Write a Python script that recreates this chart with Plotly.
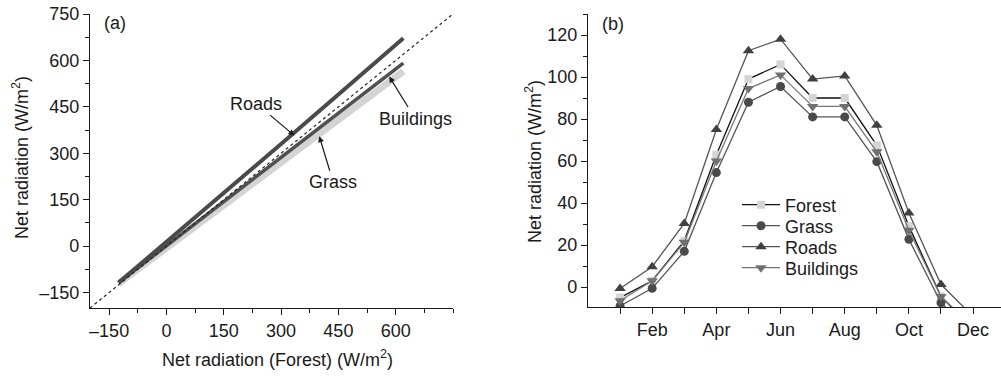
import plotly.graph_objects as go

# ---------------- Panel (a) data: net radiation vs Forest ----------------
forest_x = [-125, 0, 150, 300, 450, 620]
roads_a = [-118, 13, 172, 330, 490, 672]
buildings_a = [-118, 1, 143, 285, 428, 591]
grass_a = [-121, -5, 133, 271, 408, 565]
one_to_one = [-200, 750]

# ---------------- Panel (b) data: monthly mean net radiation ----------------
months = [1, 2, 3, 4, 5, 6, 7, 8, 9, 10, 11, 12]
month_ticks = [2, 4, 6, 8, 10, 12]
month_labels = ["Feb", "Apr", "Jun", "Aug", "Oct", "Dec"]
forest_b = [-5, 3, 22, 63, 99, 106, 90, 90, 67.5, 29, -4.5, -20]
grass_b = [-9, -0.6, 17, 54.5, 88, 95.5, 81, 81, 59.7, 22.7, -7.5, -22]
roads_b = [-0.7, 9.7, 30.3, 75, 112.5, 118, 99, 100.5, 77, 35.3, 1.2, -14]
buildings_b = [-6.5, 3, 21.3, 60, 94.5, 101, 86, 86, 64.4, 27, -4.5, -19]

FONT = "Liberation Sans, Arial, sans-serif"
INK = "#1a1a1a"
FS = 18

fig = go.Figure()

# panel a traces
fig.add_trace(go.Scatter(x=forest_x, y=grass_a, mode="lines",
                         line=dict(color="#d4d4d4", width=7),
                         showlegend=False, xaxis="x", yaxis="y"))
fig.add_trace(go.Scatter(x=forest_x, y=buildings_a, mode="lines",
                         line=dict(color="#505050", width=3.5),
                         showlegend=False, xaxis="x", yaxis="y"))
fig.add_trace(go.Scatter(x=forest_x, y=roads_a, mode="lines",
                         line=dict(color="#4a4a4a", width=4),
                         showlegend=False, xaxis="x", yaxis="y"))
fig.add_trace(go.Scatter(x=one_to_one, y=one_to_one, mode="lines",
                         line=dict(color="#222", width=1.2, dash="dot"),
                         showlegend=False, xaxis="x", yaxis="y"))

# panel b traces (each in its own legend so rows can sit tightly)
fig.add_trace(go.Scatter(x=months, y=forest_b, name="Forest", mode="lines+markers",
                         line=dict(color="#111", width=1.3),
                         marker=dict(symbol="square", size=8, color="#d4d4d4"),
                         xaxis="x2", yaxis="y2", legend="legend"))
fig.add_trace(go.Scatter(x=months, y=grass_b, name="Grass", mode="lines+markers",
                         line=dict(color="#555", width=1.3),
                         marker=dict(symbol="circle", size=9, color="#4a4a4a"),
                         xaxis="x2", yaxis="y2", legend="legend2"))
fig.add_trace(go.Scatter(x=months, y=roads_b, name="Roads", mode="lines+markers",
                         line=dict(color="#555", width=1.3),
                         marker=dict(symbol="triangle-up", size=10, color="#404040"),
                         xaxis="x2", yaxis="y2", legend="legend3"))
fig.add_trace(go.Scatter(x=months, y=buildings_b, name="Buildings", mode="lines+markers",
                         line=dict(color="#777", width=1.3),
                         marker=dict(symbol="triangle-down", size=10, color="#707070"),
                         xaxis="x2", yaxis="y2", legend="legend4"))

W, H = 1001, 376

def px_x(p):
    return p / W

def px_y(p):
    return 1 - p / H

axis_common = dict(showline=True, linecolor=INK, linewidth=1.3, ticks="outside",
                   tickcolor=INK, tickwidth=1.3, ticklen=6, showgrid=False,
                   zeroline=False, tickfont=dict(family=FONT, size=FS, color=INK),
                   automargin=False, mirror=False)

def leg(ypx):
    return dict(x=px_x(737), y=px_y(ypx), xanchor="left", yanchor="middle",
                bgcolor="rgba(0,0,0,0)", font=dict(family=FONT, size=FS, color=INK),
                itemwidth=38, borderwidth=0)

fig.update_layout(
    width=W, height=H,
    margin=dict(l=0, r=0, t=0, b=0),
    paper_bgcolor="white", plot_bgcolor="white",
    font=dict(family=FONT, size=FS, color=INK),
    xaxis=dict(domain=[px_x(90), px_x(453)], range=[-200, 750], anchor="y",
               tickmode="array", tickvals=[-150, 0, 150, 300, 450, 600],
               ticktext=["\u2013150", "0", "150", "300", "450", "600"],
               minor=dict(tickmode="array", tickvals=[-75, 75, 225, 375, 525, 675, 750],
                          ticks="outside", ticklen=4, tickcolor=INK, tickwidth=1.3),
               **axis_common),
    yaxis=dict(domain=[px_y(308), px_y(14)], range=[-200, 750], anchor="x",
               tickmode="array", tickvals=[-150, 0, 150, 300, 450, 600, 750],
               ticktext=["\u2013150", "0", "150", "300", "450", "600", "750"],
               minor=dict(tickmode="array", tickvals=[-75, 75, 225, 375, 525, 675],
                          ticks="outside", ticklen=4, tickcolor=INK, tickwidth=1.3),
               **axis_common),
    xaxis2=dict(domain=[px_x(588), 1.0], range=[0, 12.87], anchor="y2",
                tickmode="array", tickvals=month_ticks, ticktext=month_labels,
                minor=dict(tickmode="array", tickvals=[1, 3, 5, 7, 9, 11],
                           ticks="outside", ticklen=6, tickcolor=INK, tickwidth=1.3),
                **axis_common),
    yaxis2=dict(domain=[px_y(307), px_y(14)], range=[-9.5, 130], anchor="x2",
                tickmode="array", tickvals=[0, 20, 40, 60, 80, 100, 120],
                minor=dict(tickmode="array", tickvals=[10, 30, 50, 70, 90, 110, 130],
                           ticks="outside", ticklen=4, tickcolor=INK, tickwidth=1.3),
                **axis_common),
    legend=leg(205),
    legend2=leg(226),
    legend3=leg(247),
    legend4=leg(268),
    showlegend=True,
)

ann_font = dict(family=FONT, size=FS, color=INK)

def label(text, xp, yp, angle=0):
    return dict(text=text, x=px_x(xp), y=px_y(yp), xref="paper", yref="paper",
                xanchor="center", yanchor="middle", showarrow=False,
                textangle=angle, font=ann_font)

annotations = [
    label("(a)", 115, 23),
    label("(b)", 613, 24),
    label("Net radiation (W/m<sup>2</sup>)", 20, 158, -90),
    label("Net radiation (Forest) (W/m<sup>2</sup>)", 277, 358),
    label("Net radiation (W/m<sup>2</sup>)", 533, 162, -90),
    # arrow labels in panel a
    dict(text="Roads", x=335, y=357, xref="x", yref="y", ax=-38, ay=-32,
         showarrow=True, arrowhead=2, arrowsize=1, arrowwidth=1.2, arrowcolor=INK,
         font=ann_font),
    dict(text="Grass", x=400, y=355, xref="x", yref="y", ax=14, ay=46,
         showarrow=True, arrowhead=2, arrowsize=1, arrowwidth=1.2, arrowcolor=INK,
         font=ann_font),
    dict(text="Buildings", x=583, y=548, xref="x", yref="y", ax=26, ay=42,
         showarrow=True, arrowhead=2, arrowsize=1, arrowwidth=1.2, arrowcolor=INK,
         font=ann_font),
]
fig.update_layout(annotations=annotations)

fig.write_html("out.html")
